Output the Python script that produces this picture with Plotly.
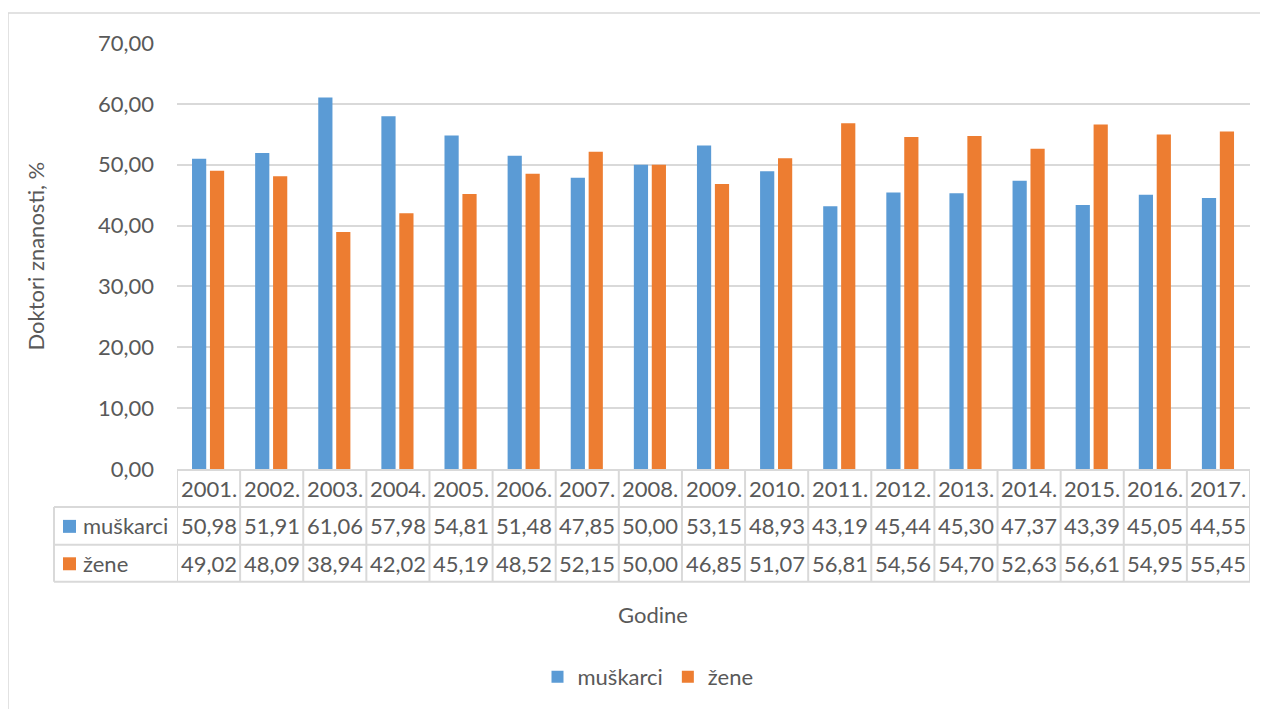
import plotly.graph_objects as go

years = ["2001.", "2002.", "2003.", "2004.", "2005.", "2006.", "2007.", "2008.", "2009.",
         "2010.", "2011.", "2012.", "2013.", "2014.", "2015.", "2016.", "2017."]
muskarci = [50.98, 51.91, 61.06, 57.98, 54.81, 51.48, 47.85, 50.00, 53.15,
            48.93, 43.19, 45.44, 45.30, 47.37, 43.39, 45.05, 44.55]
zene = [49.02, 48.09, 38.94, 42.02, 45.19, 48.52, 52.15, 50.00, 46.85,
        51.07, 56.81, 54.56, 54.70, 52.63, 56.61, 54.95, 55.45]
y_ticks = [0, 10, 20, 30, 40, 50, 60, 70]

BLUE = "#5B9BD5"
ORANGE = "#ED7D31"
TXT = "#595959"
GRID = "#D9D9D9"
FONT = "Lato"
FS = 22

# page offset (body margin) in the viewer
OX, OY = 8, 8
W, H = 1268 - OX, 709 - OY
# screen coordinates of plot area
L, R, T, B = 177, 1250, 43, 470
PW, PH = R - L, B - T


def px(x):
    return (x - L) / PW


def py(y):
    return (B - y) / PH


def fmt(v):
    return f"{v:.2f}".replace(".", ",")


xs = list(range(len(years)))

fig = go.Figure()
fig.add_trace(go.Bar(x=xs, y=muskarci, name="muškarci", marker_color=BLUE,
                     offset=-0.262, width=0.225, marker_line_width=0))
fig.add_trace(go.Bar(x=xs, y=zene, name="žene", marker_color=ORANGE,
                     offset=0.022, width=0.225, marker_line_width=0))

shapes = []
ann = []
line = dict(color=GRID, width=2)

# chart border
shapes.append(dict(type="rect", xref="paper", yref="paper",
                   x0=px(8), x1=px(1290), y0=py(13), y1=py(730),
                   line=dict(color=GRID, width=1.5), layer="below"))

# data table grid
y_rows = [471, 508, 546, 583]
shapes.append(dict(type="line", xref="paper", yref="paper", x0=px(L), x1=px(R),
                   y0=py(y_rows[0]), y1=py(y_rows[0]), line=line))
for yy in y_rows[1:]:
    shapes.append(dict(type="line", xref="paper", yref="paper", x0=px(54), x1=px(R),
                       y0=py(yy), y1=py(yy), line=line))
shapes.append(dict(type="line", xref="paper", yref="paper", x0=px(54), x1=px(54),
                   y0=py(y_rows[1]), y1=py(y_rows[3]), line=line))
for i in range(len(years) + 1):
    shapes.append(dict(type="line", xref="x", yref="paper", x0=i - 0.5, x1=i - 0.5,
                       y0=py(y_rows[0]), y1=py(y_rows[3]), line=line))

row_centers = [489.5, 527, 564.5]
tf = dict(size=FS, color=TXT, family=FONT)
for i, yr in enumerate(years):
    for rc, txt in [(row_centers[0], yr), (row_centers[1], fmt(muskarci[i])),
                    (row_centers[2], fmt(zene[i]))]:
        ann.append(dict(x=i, y=py(rc), xref="x", yref="paper", text=txt,
                        xanchor="center", yanchor="middle", showarrow=False, font=tf))

# row headers with legend keys
for rc, name, col in [(row_centers[1], "muškarci", BLUE), (row_centers[2], "žene", ORANGE)]:
    shapes.append(dict(type="rect", xref="paper", yref="paper", x0=px(63), x1=px(76),
                       y0=py(rc + 7), y1=py(rc - 6), fillcolor=col, line=dict(width=0)))
    ann.append(dict(x=px(81), y=py(rc), xref="paper", yref="paper", text=name,
                    xanchor="left", yanchor="middle", showarrow=False, font=tf))

# axis titles
ann.append(dict(x=px(653), y=py(616), xref="paper", yref="paper", text="Godine",
                xanchor="center", yanchor="middle",
                showarrow=False, font=dict(size=FS, color=TXT, family=FONT)))
ann.append(dict(x=px(35), y=py(257), xref="paper", yref="paper", text="Doktori znanosti, %",
                xanchor="center", yanchor="middle",
                textangle=-90, showarrow=False, font=dict(size=FS, color=TXT, family=FONT)))

fig.update_layout(
    width=W, height=H,
    margin=dict(l=L - OX, r=W - (R - OX), t=T - OY, b=H - (B - OY), pad=0),
    paper_bgcolor="white", plot_bgcolor="white",
    separators=",.",
    barmode="overlay",
    font=dict(family=FONT, color=TXT, size=FS),
    showlegend=True,
    legend=dict(orientation="h", x=px(648), y=py(677), xanchor="center", yanchor="middle",
                font=dict(size=FS, color=TXT, family=FONT), itemwidth=30,
                bgcolor="rgba(0,0,0,0)"),
    xaxis=dict(range=[-0.5, len(years) - 0.5], showticklabels=False, showgrid=False,
               zeroline=False, showline=False, ticks=""),
    yaxis=dict(range=[0, 70], tickvals=y_ticks, tickformat=".2f", showgrid=True,
               gridcolor=GRID, gridwidth=1.5, zeroline=False, showline=False,
               ticks="", ticklabelstandoff=22,
               tickfont=dict(size=FS, color=TXT, family=FONT)),
    shapes=shapes, annotations=ann,
)

fig.write_html("out.html")
